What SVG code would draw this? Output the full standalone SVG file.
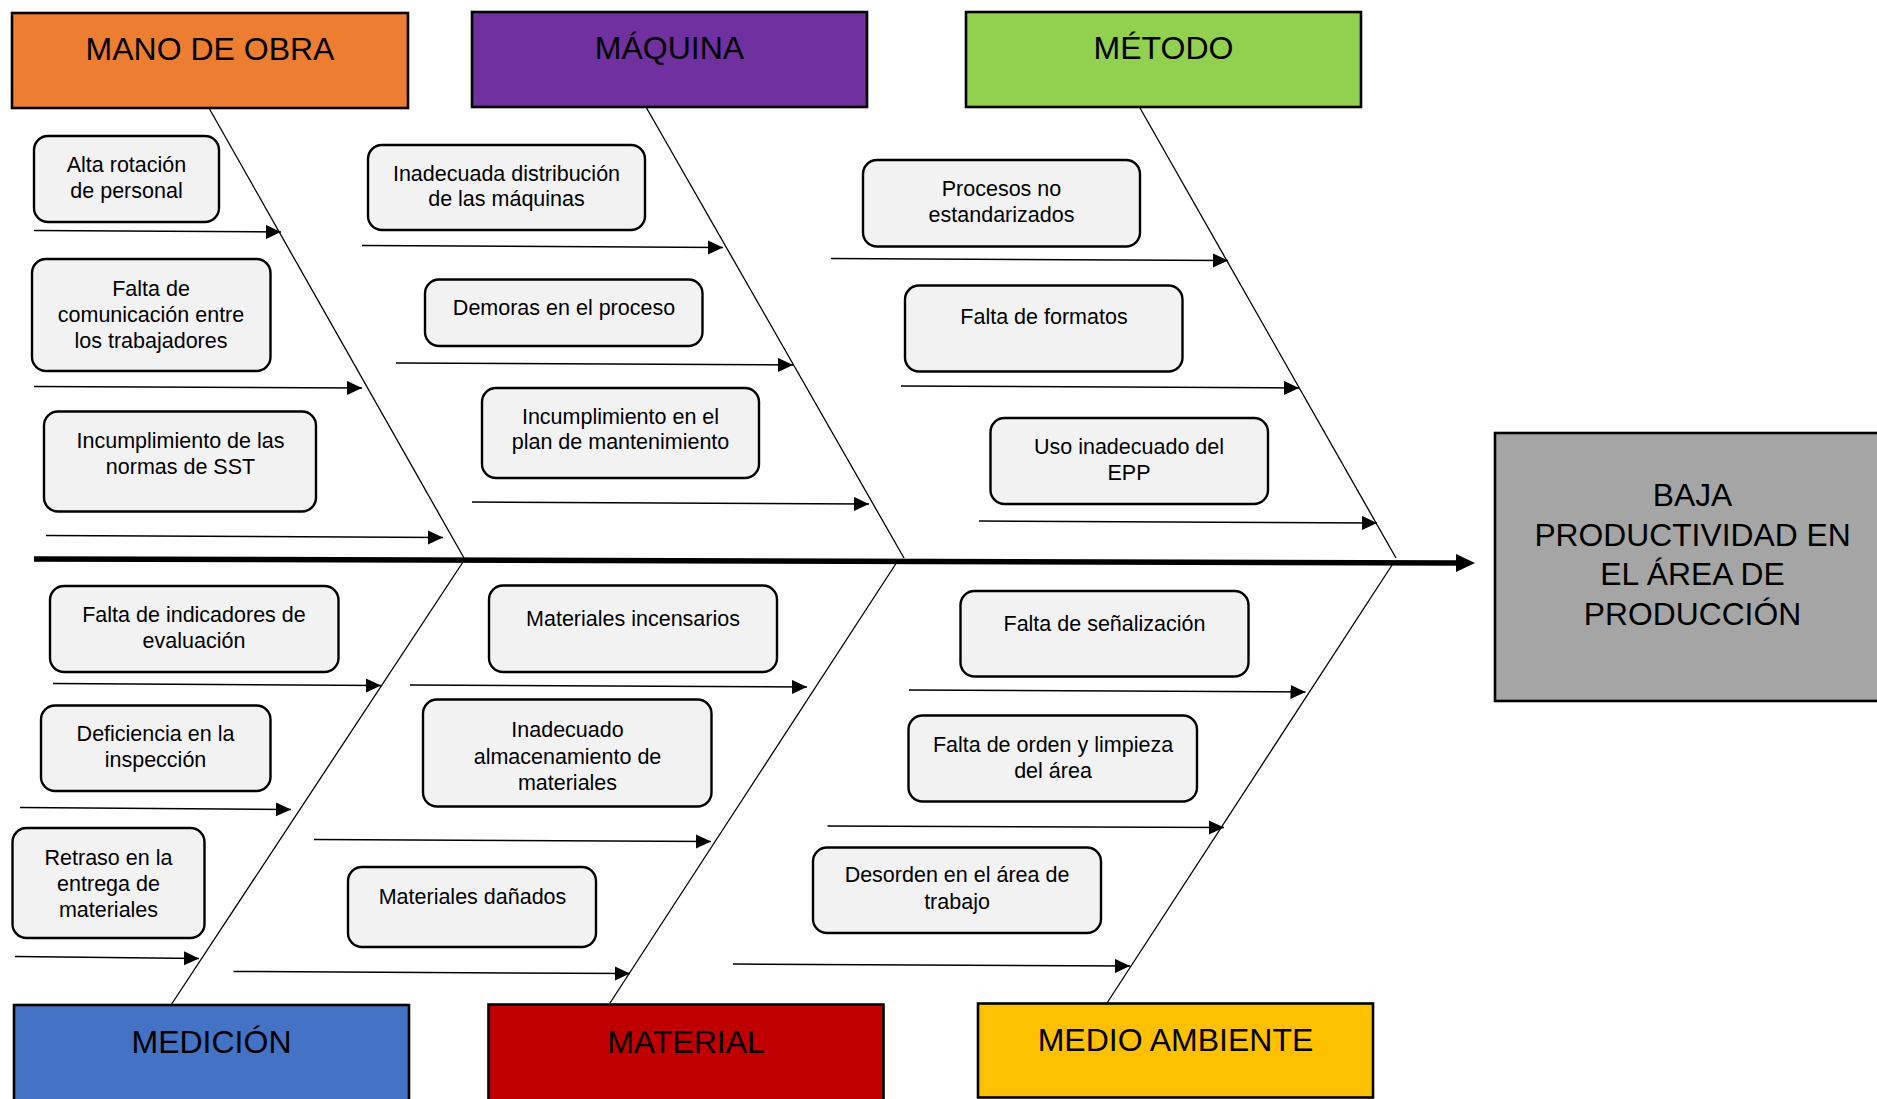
<svg xmlns="http://www.w3.org/2000/svg" width="1877" height="1099" viewBox="0 0 1877 1099">
  <style>
    .cat { stroke: #000; stroke-width: 2.6; }
    .cause { fill: #f2f2f2; stroke: #000; stroke-width: 2.4; }
    .lbl { font-family: "Liberation Sans", Arial, sans-serif; font-size: 32px; fill: #000; text-anchor: middle; }
    .eff { font-family: "Liberation Sans", Arial, sans-serif; font-size: 31.8px; fill: #000; text-anchor: middle; }
    .t { font-family: "Liberation Sans", Arial, sans-serif; font-size: 21.5px; fill: #000; text-anchor: middle; }
    .bone { stroke: #000; stroke-width: 1.3; fill: none; }
    .arr { stroke: #000; stroke-width: 1.5; fill: none; marker-end: url(#head); }
  </style>
  <defs>
    <marker id="head" markerUnits="userSpaceOnUse" markerWidth="16" markerHeight="16" refX="15" refY="7" orient="auto">
      <path d="M0,0 L15,7 L0,14 Z" fill="#000"/>
    </marker>
  </defs>

  <rect width="1877" height="1099" fill="#fff"/>

  <!-- connectors: spine, bones and cause arrows -->
  <g id="connectors">
    <line x1="34" y1="559" x2="1460" y2="563" stroke="#000" stroke-width="5.5"/>
    <polygon points="1456,554 1475,563 1456,572" fill="#000"/>

    <line class="bone" x1="209.5" y1="109" x2="464" y2="558"/>
    <line class="bone" x1="646" y1="107" x2="904" y2="558"/>
    <line class="bone" x1="1140" y1="108" x2="1396" y2="558"/>
    <line class="bone" x1="463" y1="562" x2="171" y2="1005"/>
    <line class="bone" x1="897" y1="562" x2="610" y2="1003"/>
    <line class="bone" x1="1394" y1="562" x2="1107" y2="1003"/>

    <line class="arr" x1="34" y1="230.5" x2="281" y2="232"/>
    <line class="arr" x1="34" y1="386.5" x2="362" y2="388"/>
    <line class="arr" x1="46" y1="535.5" x2="443" y2="537.5"/>
    <line class="arr" x1="362" y1="245.5" x2="723" y2="247.5"/>
    <line class="arr" x1="396" y1="363" x2="793" y2="365"/>
    <line class="arr" x1="472" y1="502" x2="869" y2="504"/>
    <line class="arr" x1="831" y1="258.5" x2="1228" y2="260.5"/>
    <line class="arr" x1="901" y1="386" x2="1299" y2="388"/>
    <line class="arr" x1="979" y1="521" x2="1377" y2="523"/>
    <line class="arr" x1="53" y1="683.5" x2="381" y2="685.5"/>
    <line class="arr" x1="20" y1="807.5" x2="291" y2="809.5"/>
    <line class="arr" x1="15" y1="956.5" x2="199" y2="958.5"/>
    <line class="arr" x1="410" y1="685" x2="807" y2="687"/>
    <line class="arr" x1="314" y1="839.5" x2="711" y2="841.5"/>
    <line class="arr" x1="233.5" y1="971.5" x2="630" y2="973.5"/>
    <line class="arr" x1="909" y1="690" x2="1305.5" y2="692"/>
    <line class="arr" x1="827.5" y1="826" x2="1224" y2="827.5"/>
    <line class="arr" x1="733" y1="964" x2="1130" y2="966"/>
  </g>

  <!-- category headers -->
  <g id="mano-de-obra">
    <rect class="cat" x="12" y="13" width="396" height="95" fill="#ED7D31"/>
    <text class="lbl" x="210" y="60">MANO DE OBRA</text>
  </g>
  <g id="maquina">
    <rect class="cat" x="472" y="12" width="395" height="95" fill="#7030A0"/>
    <text class="lbl" x="669.5" y="59">MÁQUINA</text>
  </g>
  <g id="metodo">
    <rect class="cat" x="966" y="12" width="395" height="95" fill="#92D050"/>
    <text class="lbl" x="1163.5" y="59">MÉTODO</text>
  </g>
  <g id="medicion">
    <rect class="cat" x="14" y="1005" width="395" height="110" fill="#4472C4"/>
    <text class="lbl" x="211.5" y="1053">MEDICIÓN</text>
  </g>
  <g id="material">
    <rect class="cat" x="488.5" y="1004.5" width="395" height="110" fill="#C00000"/>
    <text class="lbl" x="686" y="1053">MATERIAL</text>
  </g>
  <g id="medio-ambiente">
    <rect class="cat" x="978" y="1003.5" width="395" height="94" fill="#FFC000"/>
    <text class="lbl" x="1175.5" y="1050.5">MEDIO AMBIENTE</text>
  </g>

  <!-- effect -->
  <g id="efecto">
    <rect class="cat" x="1495" y="433" width="400" height="268" fill="#A5A5A5"/>
    <text class="eff" x="1692.5" y="506">BAJA</text>
    <text class="eff" x="1692.5" y="545.5">PRODUCTIVIDAD EN</text>
    <text class="eff" x="1692.5" y="585">EL ÁREA DE</text>
    <text class="eff" x="1692.5" y="624.5">PRODUCCIÓN</text>
  </g>

  <!-- causes: mano de obra -->
  <g id="alta-rotacion">
    <rect class="cause" x="34" y="136" width="185" height="86" rx="14"/>
    <text class="t" x="126.5" y="172">Alta rotación</text>
    <text class="t" x="126.5" y="198">de personal</text>
  </g>
  <g id="falta-comunicacion">
    <rect class="cause" x="32" y="259" width="238.5" height="112" rx="14"/>
    <text class="t" x="151" y="295.5">Falta de</text>
    <text class="t" x="151" y="321.5">comunicación entre</text>
    <text class="t" x="151" y="347.5">los trabajadores</text>
  </g>
  <g id="incumplimiento-sst">
    <rect class="cause" x="44" y="411.5" width="272" height="100" rx="14"/>
    <text class="t" x="180.5" y="448">Incumplimiento de las</text>
    <text class="t" x="180.5" y="473.5">normas de SST</text>
  </g>

  <!-- causes: máquina -->
  <g id="distribucion-maquinas">
    <rect class="cause" x="368" y="145" width="277" height="85" rx="14"/>
    <text class="t" x="506.5" y="180.5">Inadecuada distribución</text>
    <text class="t" x="506.5" y="206">de las máquinas</text>
  </g>
  <g id="demoras-proceso">
    <rect class="cause" x="425" y="279.5" width="277.5" height="66.5" rx="14"/>
    <text class="t" x="564" y="314.5">Demoras en el proceso</text>
  </g>
  <g id="plan-mantenimiento">
    <rect class="cause" x="482" y="388" width="277" height="90" rx="14"/>
    <text class="t" x="620.5" y="423.5">Incumplimiento en el</text>
    <text class="t" x="620.5" y="449">plan de mantenimiento</text>
  </g>

  <!-- causes: método -->
  <g id="procesos-no-estandarizados">
    <rect class="cause" x="863" y="160" width="277" height="86.5" rx="14"/>
    <text class="t" x="1001.5" y="195.5">Procesos no</text>
    <text class="t" x="1001.5" y="221.5">estandarizados</text>
  </g>
  <g id="falta-formatos">
    <rect class="cause" x="905" y="285.5" width="277.5" height="86" rx="14"/>
    <text class="t" x="1044" y="324">Falta de formatos</text>
  </g>
  <g id="uso-epp">
    <rect class="cause" x="990.5" y="418" width="277.5" height="86" rx="14"/>
    <text class="t" x="1129" y="453.5">Uso inadecuado del</text>
    <text class="t" x="1129" y="480">EPP</text>
  </g>

  <!-- causes: medición -->
  <g id="falta-indicadores">
    <rect class="cause" x="50" y="586" width="288.5" height="86" rx="14"/>
    <text class="t" x="194" y="622">Falta de indicadores de</text>
    <text class="t" x="194" y="648">evaluación</text>
  </g>
  <g id="deficiencia-inspeccion">
    <rect class="cause" x="41" y="705.5" width="229.5" height="85.5" rx="14"/>
    <text class="t" x="155.5" y="740.5">Deficiencia en la</text>
    <text class="t" x="155.5" y="766.5">inspección</text>
  </g>
  <g id="retraso-entrega">
    <rect class="cause" x="12.5" y="828" width="192" height="110" rx="14"/>
    <text class="t" x="108.5" y="864.5">Retraso en la</text>
    <text class="t" x="108.5" y="891">entrega de</text>
    <text class="t" x="108.5" y="917">materiales</text>
  </g>

  <!-- causes: material -->
  <g id="materiales-incensarios">
    <rect class="cause" x="489" y="585.5" width="288" height="86.5" rx="14"/>
    <text class="t" x="633" y="625.5">Materiales incensarios</text>
  </g>
  <g id="almacenamiento">
    <rect class="cause" x="423" y="699.5" width="288.5" height="107" rx="14"/>
    <text class="t" x="567.5" y="737">Inadecuado</text>
    <text class="t" x="567.5" y="763.5">almacenamiento de</text>
    <text class="t" x="567.5" y="789.5">materiales</text>
  </g>
  <g id="materiales-danados">
    <rect class="cause" x="348" y="867" width="248" height="80" rx="14"/>
    <text class="t" x="472.5" y="903.5">Materiales dañados</text>
  </g>

  <!-- causes: medio ambiente -->
  <g id="senalizacion">
    <rect class="cause" x="960.5" y="591" width="288" height="85.5" rx="14"/>
    <text class="t" x="1104.5" y="631">Falta de señalización</text>
  </g>
  <g id="orden-limpieza">
    <rect class="cause" x="908.5" y="715.5" width="288.5" height="86" rx="14"/>
    <text class="t" x="1053" y="752">Falta de orden y limpieza</text>
    <text class="t" x="1053" y="777.5">del área</text>
  </g>
  <g id="desorden">
    <rect class="cause" x="813" y="847.5" width="288" height="85.5" rx="14"/>
    <text class="t" x="957" y="882">Desorden en el área de</text>
    <text class="t" x="957" y="908.5">trabajo</text>
  </g>
</svg>
